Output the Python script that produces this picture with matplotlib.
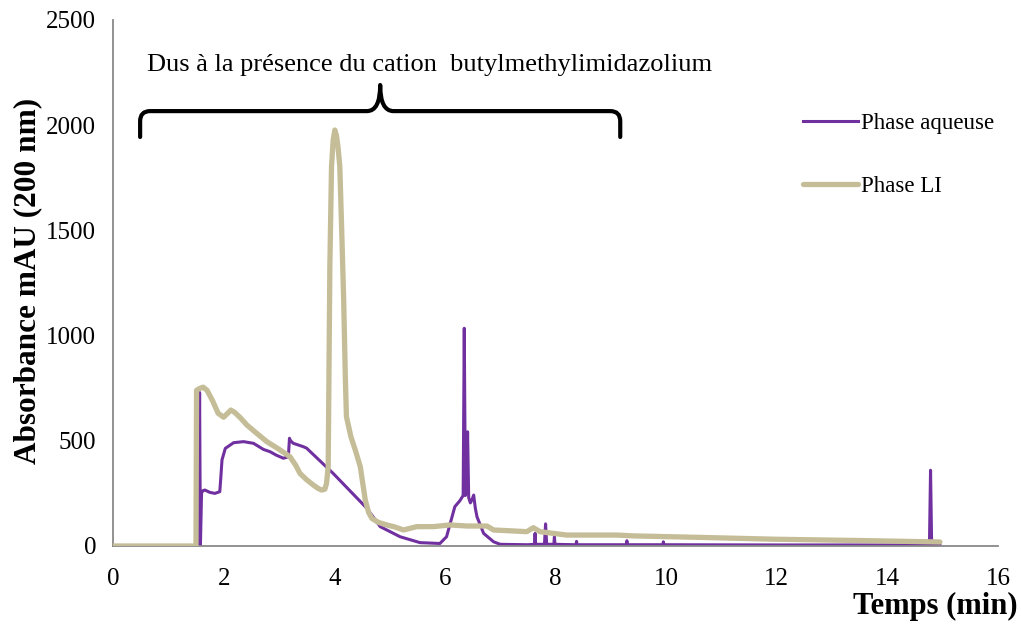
"""Chromatogram of the aqueous and ionic-liquid phases at 200 nm."""

import matplotlib

matplotlib.use("Agg")
import matplotlib.pyplot as plt
from matplotlib.patches import PathPatch
from matplotlib.path import Path

# --- data ------------------------------------------------------------------
# Aqueous phase trace (time in min, absorbance in mAU)
aq_time = [
    0.00, 1.55, 1.565, 1.58, 1.60, 1.62, 1.66, 1.75, 1.84, 1.93, 1.95, 1.97,
    2.03, 2.18, 2.36, 2.54, 2.72, 2.84, 2.95, 3.08, 3.17, 3.19, 3.21, 3.26,
    3.35, 3.44, 3.50, 3.98, 4.59, 4.83, 5.19, 5.55, 5.91, 6.03, 6.12, 6.18,
    6.27, 6.33, 6.35, 6.37, 6.39, 6.41, 6.43, 6.46, 6.49, 6.52, 6.55, 6.58,
    6.70, 6.88, 7.00, 7.50, 7.62, 7.63, 7.64, 7.80, 7.82, 7.84, 7.97, 7.98,
    7.99, 8.37, 8.38, 8.39, 9.28, 9.29, 9.30, 9.94, 9.95, 9.96, 12.00, 14.76,
    14.78, 14.80, 14.95,
]
aq_abs = [
    0, 0, 730, 0, 250, 262, 266, 255, 250, 258, 330, 409,
    464, 491, 496, 488, 459, 448, 432, 417, 424, 512, 500, 488,
    480, 472, 465, 345, 179, 92, 44, 16, 12, 44, 130, 187,
    215, 240, 1035, 240, 260, 543, 230, 205, 220, 242, 180, 139,
    60, 20, 8, 6, 8, 60, 8, 8, 105, 8, 8, 44,
    8, 6, 22, 6, 6, 25, 6, 6, 20, 6, 5, 5,
    360, 5, 5,
]

# Ionic-liquid (LI) phase trace
li_time = [
    0.00, 1.50, 1.51, 1.56, 1.63, 1.70, 1.80, 1.90, 2.00, 2.07, 2.13, 2.20,
    2.30, 2.42, 2.60, 2.78, 3.00, 3.20, 3.30, 3.38, 3.50, 3.62, 3.70, 3.77,
    3.83, 3.86, 3.89, 3.92, 3.95, 3.98, 4.01, 4.04, 4.07, 4.10, 4.14, 4.17,
    4.20, 4.22, 4.30, 4.38, 4.47, 4.56, 4.62, 4.68, 4.80, 4.95, 5.10, 5.25,
    5.49, 5.79, 6.09, 6.40, 6.76, 6.88, 7.20, 7.48, 7.60, 7.72, 8.20, 9.11,
    9.41, 10.60, 12.00, 13.50, 14.95,
]
li_abs = [
    0, 0, 740, 748, 755, 740, 690, 631, 612, 630, 646, 635,
    610, 575, 535, 496, 460, 424, 385, 345, 315, 290, 275, 266,
    270, 298, 377, 1327, 1803, 1930, 1977, 1950, 1890, 1803, 1450, 1169,
    800, 615, 520, 456, 377, 219, 160, 131, 112, 100, 90, 76,
    92, 92, 100, 95, 95, 76, 72, 68, 87, 68, 52, 52,
    48, 41, 32, 26, 19,
]

x_ticks = [0, 2, 4, 6, 8, 10, 12, 14, 16]
y_ticks = [0, 500, 1000, 1500, 2000, 2500]

annotation = "Dus à la présence du cation  butylmethylimidazolium"

# Brace spanning the region of the cation signals
BRACE_X0, BRACE_X1, BRACE_XC = 0.49, 9.17, 4.83
BRACE_Y_END, BRACE_Y_H, BRACE_Y_TIP = 1944, 2067, 2191

AQ_COLOR = "#7030A0"
LI_COLOR = "#C4BD97"

plt.rcParams["font.family"] = ["Liberation Serif", "DejaVu Serif"]

fig = plt.figure(figsize=(10.21, 6.25), dpi=100)
ax = fig.add_axes([0.1107, 0.1264, 0.8668, 0.8416])

ax.plot(aq_time, aq_abs, color=AQ_COLOR, lw=2.2, label="Phase aqueuse",
        solid_joinstyle="round", zorder=2)
ax.plot(li_time, li_abs, color=LI_COLOR, lw=3.8, label="Phase LI",
        solid_joinstyle="round", solid_capstyle="round", zorder=3)

ax.set_xlim(0, 16)
ax.set_ylim(0, 2500)
ax.set_xticks(x_ticks)
ax.set_yticks(y_ticks)
ax.tick_params(length=0, labelsize=18)
ax.tick_params(axis="x", pad=16)
ax.tick_params(axis="y", pad=12)
for side in ("top", "right"):
    ax.spines[side].set_visible(False)
for side in ("left", "bottom"):
    ax.spines[side].set_color("#898989")
    ax.spines[side].set_linewidth(1.3)

# Curly brace drawn as quadratic curves
rx, ry, cx = 0.18, 48, 0.24
verts = [
    (BRACE_X0, BRACE_Y_END),
    (BRACE_X0, BRACE_Y_H - ry),
    (BRACE_X0, BRACE_Y_H), (BRACE_X0 + rx, BRACE_Y_H),
    (BRACE_XC - cx, BRACE_Y_H),
    (BRACE_XC, BRACE_Y_H), (BRACE_XC, BRACE_Y_TIP),
    (BRACE_XC, BRACE_Y_H), (BRACE_XC + cx, BRACE_Y_H),
    (BRACE_X1 - rx, BRACE_Y_H),
    (BRACE_X1, BRACE_Y_H), (BRACE_X1, BRACE_Y_H - ry),
    (BRACE_X1, BRACE_Y_END),
]
codes = [
    Path.MOVETO, Path.LINETO, Path.CURVE3, Path.CURVE3, Path.LINETO,
    Path.CURVE3, Path.CURVE3, Path.CURVE3, Path.CURVE3, Path.LINETO,
    Path.CURVE3, Path.CURVE3, Path.LINETO,
]
ax.add_patch(PathPatch(Path(verts, codes), fill=False, lw=3.0,
                       edgecolor="black", capstyle="round", joinstyle="round",
                       clip_on=False))

ax.text(5.73, 2286, annotation, ha="center", va="center", fontsize=19)

ax.legend(loc="upper left", bbox_to_anchor=(0.766, 0.853),
          bbox_transform=fig.transFigure, frameon=False, fontsize=16.5,
          handlelength=2.4, handletextpad=0.15, labelspacing=1.85)

fig.text(0.997, 0.029, "Temps (min)", ha="right", va="center",
         fontsize=22, fontweight="bold")
fig.text(0.027, 0.55, "Absorbance mAU (200 nm)", ha="center", va="center",
         rotation=90, fontsize=22.5, fontweight="bold")

fig.savefig("out.png", dpi=100)
